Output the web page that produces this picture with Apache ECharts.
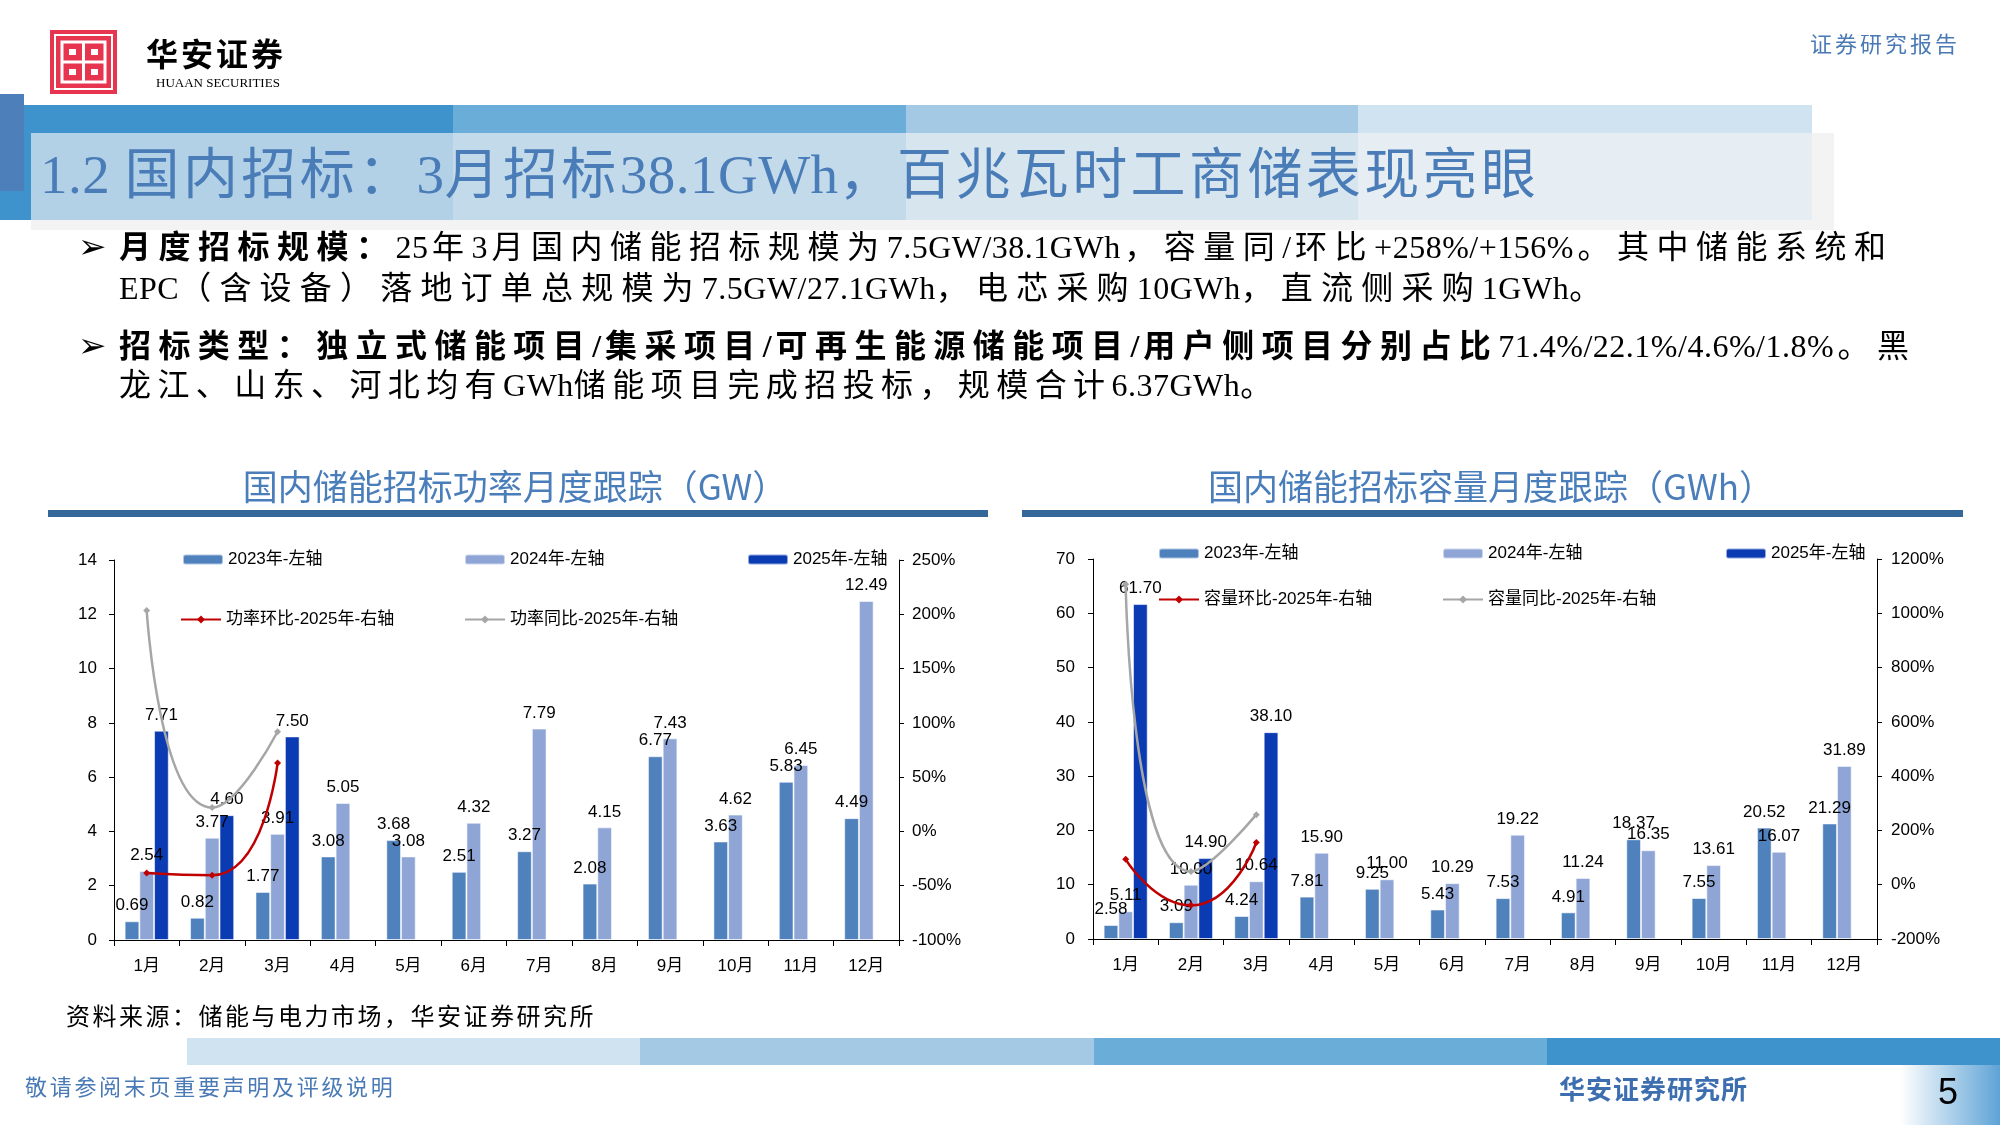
<!DOCTYPE html>
<html>
<head>
<meta charset="utf-8">
<script src="https://cdn.jsdelivr.net/npm/echarts@6/dist/echarts.min.js"></script>
<style>
  html,body{margin:0;padding:0;background:#fff;}
  #main{position:absolute;left:0;top:0;width:2000px;height:1125px;}
  .t{position:absolute;white-space:nowrap;color:#000;font-family:"Liberation Serif","Noto Sans CJK SC",serif;}
  .j{white-space:normal;text-align:justify;text-align-last:justify;overflow:hidden;}
  .l{letter-spacing:0.5px;}
  b{font-weight:700;}
</style>
</head>
<body>
<div id="main"></div>

<!-- logo -->
<svg style="position:absolute;left:50px;top:30px" width="67" height="64" viewBox="0 0 67 64">
  <rect x="0" y="0" width="67" height="64" fill="#e8354f"/>
  <rect x="5" y="5" width="57" height="54" fill="none" stroke="#fff" stroke-width="2"/>
  <rect x="12" y="12" width="43" height="40" fill="none" stroke="#fff" stroke-width="3"/>
  <line x1="33.5" y1="12" x2="33.5" y2="52" stroke="#fff" stroke-width="3"/>
  <line x1="12" y1="32" x2="55" y2="32" stroke="#fff" stroke-width="3"/>
  <rect x="19" y="19" width="7" height="6" fill="#fff"/>
  <rect x="41" y="19" width="7" height="6" fill="#fff"/>
  <rect x="19" y="39" width="7" height="6" fill="#fff"/>
  <rect x="41" y="39" width="7" height="6" fill="#fff"/>
</svg>
<div class="t" style="left:146px;top:30px;font-size:32px;line-height:44px;font-weight:700;font-family:'Noto Sans CJK SC';letter-spacing:3px;">华安证券</div>
<div class="t" style="left:156px;top:75px;font-size:13px;line-height:16px;">HUAAN SECURITIES</div>
<div class="t" style="left:1810px;top:28px;font-size:22px;line-height:28px;color:#4a7ab5;letter-spacing:3px;font-family:'Noto Sans CJK SC';">证券研究报告</div>

<!-- title -->
<div class="t" style="left:40px;top:143px;font-size:55px;line-height:64px;color:#4a7cb8;letter-spacing:3.4px;"><span class="l">1.2 </span>国内招标：<span class="l">3</span>月招标<span class="l">38.1GWh</span>，百兆瓦时工商储表现亮眼</div>

<!-- body -->
<div class="t" style="left:78px;top:225px;font-size:34px;line-height:42px;font-family:'DejaVu Sans';">➢</div>
<div class="t j" style="left:119px;top:226px;width:1771px;height:42px;font-size:32px;line-height:42px;letter-spacing:4px;"><b>月度招标规模：</b><span class="l">25</span>年<span class="l">3</span>月国内储能招标规模为<span class="l">7.5GW/38.1GWh</span>，容量同<span class="l">/</span>环比<span class="l">+258%/+156%</span>。其中储能系统和</div>
<div class="t" style="left:119px;top:267px;font-size:32px;line-height:42px;letter-spacing:8.2px;"><span class="l">EPC</span>（含设备）落地订单总规模为<span class="l">7.5GW/27.1GWh</span>，电芯采购<span class="l">10GWh</span>，直流侧采购<span class="l">1GWh</span>。</div>
<div class="t" style="left:78px;top:324px;font-size:34px;line-height:42px;font-family:'DejaVu Sans';">➢</div>
<div class="t j" style="left:119px;top:325px;width:1794px;height:42px;font-size:32px;line-height:42px;letter-spacing:4px;"><b>招标类型：独立式储能项目<span class="l">/</span>集采项目<span class="l">/</span>可再生能源储能项目<span class="l">/</span>用户侧项目分别占比</b><span class="l">71.4%/22.1%/4.6%/1.8%</span>。黑</div>
<div class="t" style="left:119px;top:364px;font-size:32px;line-height:42px;letter-spacing:6.4px;">龙江、山东、河北均有<span class="l">GWh</span>储能项目完成招投标，规模合计<span class="l">6.37GWh</span>。</div>

<!-- source & footer -->
<div class="t" style="left:66px;top:1001px;font-size:24px;line-height:32px;letter-spacing:2.5px;">资料来源：储能与电力市场，华安证券研究所</div>
<div class="t" style="left:25px;top:1073px;font-size:22px;line-height:30px;color:#4a7ab5;letter-spacing:2.7px;">敬请参阅末页重要声明及评级说明</div>
<div class="t" style="left:1559px;top:1071px;font-size:26px;line-height:34px;color:#3d6fb0;font-weight:700;letter-spacing:1px;font-family:'Noto Sans CJK SC';">华安证券研究所</div>
<div class="t" style="left:1938px;top:1070px;font-size:36px;line-height:44px;font-family:'Liberation Sans';">5</div>

<script>
// ---------------- data ----------------
const months = ['1月','2月','3月','4月','5月','6月','7月','8月','9月','10月','11月','12月'];

// 国内储能招标功率（GW）
const power2023 = [0.69, 0.82, 1.77, 3.08, 3.68, 2.51, 3.27, 2.08, 6.77, 3.63, 5.83, 4.49];
const power2024 = [2.54, 3.77, 3.91, 5.05, 3.08, 4.32, 7.79, 4.15, 7.43, 4.62, 6.45, 12.49];
const power2025 = [7.71, 4.60, 7.50];
const powerMoM2025 = [-38.3, -40.3, 63.0];   // %
const powerYoY2025 = [203.5, 22.0, 91.8];    // %

// 国内储能招标容量（GWh）
const cap2023 = [2.58, 3.09, 4.24, 7.81, 9.25, 5.43, 7.53, 4.91, 18.37, 7.55, 20.52, 21.29];
const cap2024 = [5.11, 10.00, 10.64, 15.90, 11.00, 10.29, 19.22, 11.24, 16.35, 13.61, 16.07, 31.89];
const cap2025 = [61.70, 14.90, 38.10];
const capMoM2025 = [93.5, -75.9, 155.7];     // %
const capYoY2025 = [1107.4, 49.0, 258.1];    // %

// axis ticks
const powerLeftAxis = {min: 0, max: 14, interval: 2};
const powerRightAxis = {min: -100, max: 250, interval: 50};
const capLeftAxis = {min: 0, max: 70, interval: 10};
const capRightAxis = {min: -200, max: 1200, interval: 200};

const seriesNames = {
  y2023: '2023年-左轴', y2024: '2024年-左轴', y2025: '2025年-左轴',
  pMoM: '功率环比-2025年-右轴', pYoY: '功率同比-2025年-右轴',
  cMoM: '容量环比-2025年-右轴', cYoY: '容量同比-2025年-右轴'
};

// ---------------- styles ----------------
const C23 = '#4f81bd', C24 = '#8fa5d6', C25 = '#0a3bb3', CRED = '#c00000', CGRAY = '#a6a6a6';
const FONT = "'Liberation Sans','Noto Sans CJK SC',sans-serif";

const chart = echarts.init(document.getElementById('main'), null, {renderer: 'canvas'});

function xAxisCfg(gi) {
  return {
    gridIndex: gi, type: 'category', data: months,
    axisLine: {show: true, lineStyle: {color: '#000', width: 1}},
    axisTick: {show: true, length: 6, lineStyle: {color: '#000'}},
    axisLabel: {margin: 18, fontSize: 17, color: '#000', fontFamily: FONT},
    splitLine: {show: false}
  };
}
function yAxisCfg(gi, ax, pos, pct, margin) {
  return {
    gridIndex: gi, type: 'value', position: pos,
    min: ax.min, max: ax.max, interval: ax.interval,
    axisLine: {show: true, lineStyle: {color: '#000', width: 1}},
    axisTick: {show: true, length: 5, lineStyle: {color: '#000'}},
    axisLabel: {margin: margin, fontSize: 17, color: '#000', fontFamily: FONT,
      formatter: v => (pct ? String(v) + '%' : String(v))},
    splitLine: {show: false}
  };
}
function barSeries(name, data, color, xi, yi) {
  return {
    name: name, type: 'bar', xAxisIndex: xi, yAxisIndex: yi, data: data,
    barGap: '0%', barCategoryGap: '32.5%',
    itemStyle: {color: color, borderColor: 'rgba(255,255,255,0.55)', borderWidth: 1},
    label: {show: true, position: 'top', distance: 7, fontSize: 17, color: '#000', fontFamily: FONT,
      formatter: p => (p.value == null ? '' : Number(p.value).toFixed(2))},
    z: 2
  };
}
function lineSeries(name, data, color, xi, yi) {
  return {
    name: name, type: 'line', xAxisIndex: xi, yAxisIndex: yi, data: data,
    smooth: 0.6, symbol: 'diamond', symbolSize: 7, showSymbol: true,
    lineStyle: {color: color, width: 2.5}, itemStyle: {color: color},
    z: 5
  };
}
function legendAt(name, x, cy) {
  return {
    data: [name], left: x, top: cy - 10, itemWidth: 40, itemHeight: 10, itemGap: 0,
    padding: 0, textStyle: {fontSize: 17, color: '#000', fontFamily: FONT, padding: [0, 0, 0, 0]},
    selectedMode: false
  };
}

const option = {
  animation: false,
  backgroundColor: '#ffffff',
  title: [
    {text: '国内储能招标功率月度跟踪（GW）', left: 510, top: 464, textAlign: 'center',
     textStyle: {fontSize: 35, fontWeight: 'normal', color: '#4a7ebb', fontFamily: "'Noto Sans CJK SC'"}},
    {text: '国内储能招标容量月度跟踪（GWh）', left: 1486, top: 464, textAlign: 'center',
     textStyle: {fontSize: 35, fontWeight: 'normal', color: '#4a7ebb', fontFamily: "'Noto Sans CJK SC'"}}
  ],
  grid: [
    {left: 114, top: 560, width: 785, height: 380},
    {left: 1093, top: 559, width: 784, height: 380}
  ],
  xAxis: [xAxisCfg(0), xAxisCfg(1)],
  yAxis: [
    yAxisCfg(0, powerLeftAxis, 'left', false, 17),
    yAxisCfg(0, powerRightAxis, 'right', true, 13),
    yAxisCfg(1, capLeftAxis, 'left', false, 18),
    yAxisCfg(1, capRightAxis, 'right', true, 14)
  ],
  legend: [
    legendAt(seriesNames.y2023, 182, 561),
    legendAt(seriesNames.y2024, 464, 561),
    legendAt(seriesNames.y2025, 747, 561),
    legendAt(seriesNames.pMoM, 180, 621),
    legendAt(seriesNames.pYoY, 464, 621),
    legendAt(seriesNames.y2023, 1158, 555),
    legendAt(seriesNames.y2024, 1442, 555),
    legendAt(seriesNames.y2025, 1725, 555),
    legendAt(seriesNames.cMoM, 1158, 601),
    legendAt(seriesNames.cYoY, 1442, 601)
  ],
  series: [
    barSeries(seriesNames.y2023, power2023, C23, 0, 0),
    barSeries(seriesNames.y2024, power2024, C24, 0, 0),
    barSeries(seriesNames.y2025, power2025, C25, 0, 0),
    lineSeries(seriesNames.pMoM, powerMoM2025, CRED, 0, 1),
    lineSeries(seriesNames.pYoY, powerYoY2025, CGRAY, 0, 1),
    barSeries(seriesNames.y2023, cap2023, C23, 1, 2),
    barSeries(seriesNames.y2024, cap2024, C24, 1, 2),
    barSeries(seriesNames.y2025, cap2025, C25, 1, 2),
    lineSeries(seriesNames.cMoM, capMoM2025, CRED, 1, 3),
    lineSeries(seriesNames.cYoY, capYoY2025, CGRAY, 1, 3)
  ],
  graphic: [
    // title block: shadow, bands, overlay, left marker
    {type: 'rect', z: -10, shape: {x: 31, y: 133, width: 1803, height: 97}, style: {fill: '#f3f3f3'}},
    {type: 'rect', z: -9, shape: {x: 0, y: 105, width: 453, height: 115}, style: {fill: '#3f93cc'}},
    {type: 'rect', z: -9, shape: {x: 453, y: 105, width: 453, height: 115}, style: {fill: '#6aadd8'}},
    {type: 'rect', z: -9, shape: {x: 906, y: 105, width: 452, height: 115}, style: {fill: '#a3c9e4'}},
    {type: 'rect', z: -9, shape: {x: 1358, y: 105, width: 454, height: 115}, style: {fill: '#cfe3f1'}},
    {type: 'rect', z: -8, shape: {x: 31, y: 133, width: 1781, height: 87}, style: {fill: 'rgba(244,244,244,0.64)'}},
    {type: 'rect', z: -7, shape: {x: 0, y: 94, width: 24, height: 97}, style: {fill: '#4d7fbb'}},
    // chart title underlines
    {type: 'rect', z: -5, shape: {x: 48, y: 510, width: 940, height: 7}, style: {fill: '#34689a'}},
    {type: 'rect', z: -5, shape: {x: 1022, y: 510, width: 941, height: 7}, style: {fill: '#34689a'}},
    // bottom bands
    {type: 'rect', z: -9, shape: {x: 187, y: 1038, width: 453, height: 27}, style: {fill: '#cfe3f1'}},
    {type: 'rect', z: -9, shape: {x: 640, y: 1038, width: 454, height: 27}, style: {fill: '#a3c9e4'}},
    {type: 'rect', z: -9, shape: {x: 1094, y: 1038, width: 453, height: 27}, style: {fill: '#6aadd8'}},
    {type: 'rect', z: -9, shape: {x: 1547, y: 1038, width: 453, height: 27}, style: {fill: '#3f93cc'}},
    // page number box
    {type: 'rect', z: -9, shape: {x: 1900, y: 1065, width: 100, height: 60},
     style: {fill: new echarts.graphic.LinearGradient(0, 0, 1, 0, [
       {offset: 0, color: '#ffffff'}, {offset: 1, color: '#5ea3d6'}])}}
  ]
};
chart.setOption(option);
</script>
</body>
</html>
